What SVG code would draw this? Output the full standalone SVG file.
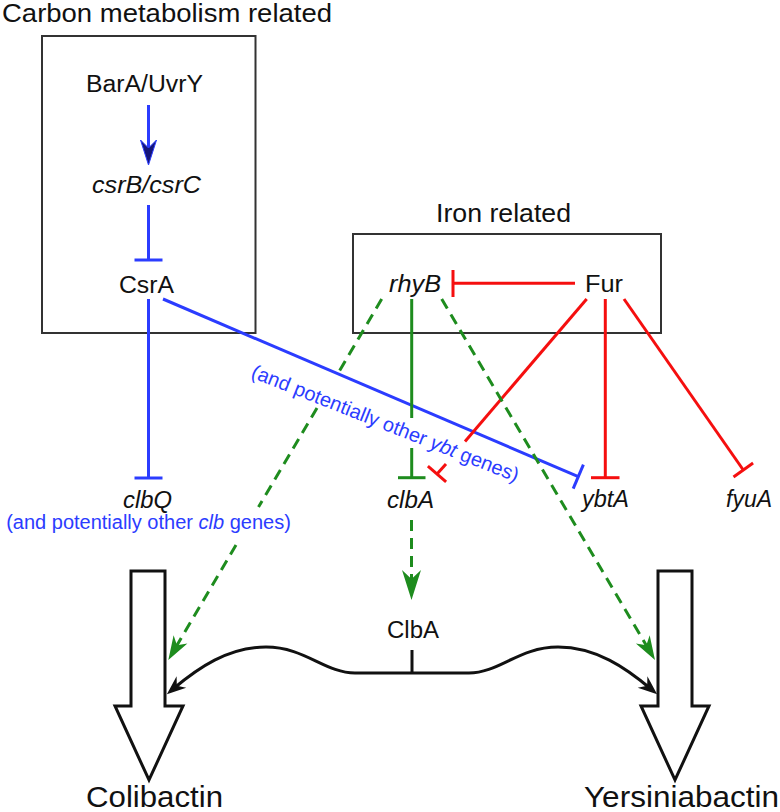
<svg xmlns="http://www.w3.org/2000/svg" width="780" height="812" viewBox="0 0 780 812">
<style>
text{font-family:"Liberation Sans",Arial,sans-serif;fill:#111}
.lbl{font-size:23px}
.it{font-style:italic}
.big{font-size:25px}
.prod{font-size:30px}
.box{fill:none;stroke:#333;stroke-width:2}
.blue{stroke:#2b3cff;stroke-width:3;fill:none}
.red{stroke:#f50f0f;stroke-width:3;fill:none}
.green{stroke:#1e8c1e;stroke-width:3;fill:none}
.dash{stroke-dasharray:11 7}
.blk{stroke:#111;stroke-width:3;fill:none}
.btxt{fill:#2b3cff;font-size:20px}
.fat{fill:#fff;stroke:#111;stroke-width:3;stroke-linejoin:miter}
</style>
<defs>
<marker id="arrBlue" markerUnits="userSpaceOnUse" viewBox="-26 -10 28 20" markerWidth="28" markerHeight="20" refX="-10" refY="0" orient="auto">
<path d="M0,0 L-25,-8 L-17,0 L-25,8 Z" fill="#15157a" stroke="#2b3cff" stroke-width="1"/>
</marker>
<marker id="arrGreen" markerUnits="userSpaceOnUse" viewBox="-26 -10 28 20" markerWidth="28" markerHeight="20" refX="-10" refY="0" orient="auto">
<path d="M0,0 L-24,-8 L-17,0 L-24,8 Z" fill="#1e8c1e"/>
</marker>
<marker id="arrGreenBig" markerUnits="userSpaceOnUse" viewBox="-32 -11 34 22" markerWidth="34" markerHeight="22" refX="-12" refY="0" orient="auto">
<path d="M0,0 L-30,-9.5 L-21,0 L-30,9.5 Z" fill="#1e8c1e"/>
</marker>
<marker id="arrBlack" markerUnits="userSpaceOnUse" viewBox="-22 -9 24 18" markerWidth="24" markerHeight="18" refX="-8" refY="0" orient="auto">
<path d="M0,0 L-19,-7.5 L-13,0 L-19,7.5 Z" fill="#111"/>
</marker>
</defs>

<g id="group-carbon">
<text class="big" x="2" y="22" textLength="330" lengthAdjust="spacingAndGlyphs">Carbon metabolism related</text>
<rect class="box" x="42" y="36" width="213.5" height="297"/>
</g>
<g id="group-iron">
<text class="big" x="436" y="222" textLength="135" lengthAdjust="spacingAndGlyphs">Iron related</text>
<rect class="box" x="353" y="234" width="308" height="99"/>
</g>

<g id="node-BarA"><text class="lbl" x="86" y="92" textLength="117" lengthAdjust="spacingAndGlyphs">BarA/UvrY</text></g>
<g id="node-csrB"><text class="lbl it" x="92" y="193" textLength="109" lengthAdjust="spacingAndGlyphs">csrB/csrC</text></g>
<g id="node-CsrA"><text class="lbl" x="119" y="293" textLength="55" lengthAdjust="spacingAndGlyphs">CsrA</text></g>
<g id="node-rhyB"><text class="lbl it" x="389" y="292" textLength="52" lengthAdjust="spacingAndGlyphs">rhyB</text></g>
<g id="node-Fur"><text class="lbl" x="585" y="292" textLength="38" lengthAdjust="spacingAndGlyphs">Fur</text></g>
<g id="node-clbQ">
<text class="lbl it" x="123" y="508" textLength="49" lengthAdjust="spacingAndGlyphs">clbQ</text>
<text class="btxt" x="148.5" y="529" text-anchor="middle">(and potentially other <tspan font-style="italic">clb</tspan> genes)</text>
</g>
<g id="node-clbA"><text class="lbl it" x="387" y="508" textLength="47" lengthAdjust="spacingAndGlyphs">clbA</text></g>
<g id="node-ybtA"><text class="lbl it" x="582" y="507" textLength="47" lengthAdjust="spacingAndGlyphs">ybtA</text></g>
<g id="node-fyuA"><text class="lbl it" x="726" y="507" textLength="46" lengthAdjust="spacingAndGlyphs">fyuA</text></g>
<g id="node-ClbA"><text class="lbl" x="387" y="638" textLength="52" lengthAdjust="spacingAndGlyphs">ClbA</text></g>
<g id="node-Colibactin">
<polygon class="fat" points="131,571 165,571 165,706 183,706 149,780 115,706 131,706"/>
<text class="prod" x="86" y="807" textLength="137" lengthAdjust="spacingAndGlyphs">Colibactin</text>
</g>
<g id="node-Yersiniabactin">
<polygon class="fat" points="658,571 692,571 692,706 709,706 675,780 641,706 658,706"/>
<text class="prod" x="584" y="807" textLength="195" lengthAdjust="spacingAndGlyphs">Yersiniabactin</text>
</g>

<g id="connectors">
<line class="blue" x1="148.5" y1="105" x2="148.5" y2="155" marker-end="url(#arrBlue)"/>
<line class="blue" x1="148.5" y1="205" x2="148.5" y2="260"/>
<line class="blue" x1="134.5" y1="260" x2="162.5" y2="260"/>
<line class="blue" x1="148.5" y1="299" x2="148.5" y2="478"/>
<line class="blue" x1="134.5" y1="478" x2="162.5" y2="478"/>
<line class="blue" x1="163" y1="299" x2="578.3" y2="476.7"/>
<line class="blue" x1="583.4" y1="464.7" x2="573.2" y2="488.7"/>
<text class="btxt" font-size="20.6" transform="translate(250,377) rotate(21.6)">(and potentially other <tspan font-style="italic">ybt</tspan> genes)</text>
<line class="red" x1="575" y1="283.3" x2="453" y2="283.3"/>
<line class="red" x1="453" y1="270" x2="453" y2="297"/>
<line class="red" x1="586.7" y1="299" x2="465" y2="441.5"/>
<line class="red" x1="446" y1="464" x2="437" y2="474"/>
<line class="red" x1="446.1" y1="481.8" x2="427.9" y2="466.2"/>
<line class="red" x1="605.3" y1="299" x2="605.3" y2="477.7"/>
<line class="red" x1="591" y1="477.7" x2="619.5" y2="477.7"/>
<line class="red" x1="624" y1="299" x2="743.3" y2="470"/>
<line class="red" x1="753.1" y1="463.1" x2="733.5" y2="476.9"/>
<line class="green" x1="411.7" y1="299" x2="411.7" y2="418"/>
<line class="green" x1="411.7" y1="448" x2="411.7" y2="477.7"/>
<line class="green" x1="398" y1="477.7" x2="425.5" y2="477.7"/>
<line class="green dash" x1="381.7" y1="299" x2="338" y2="373.5"/>
<line class="green dash" x1="317" y1="408" x2="258.5" y2="507"/>
<line class="green dash" x1="236" y1="545" x2="173.4" y2="651.4" marker-end="url(#arrGreen)"/>
<line class="green dash" x1="441.7" y1="299" x2="649.9" y2="651.4" marker-end="url(#arrGreen)"/>
<line class="green dash" x1="411.5" y1="520" x2="411.5" y2="588" marker-end="url(#arrGreenBig)"/>
<line class="blk" x1="412" y1="650" x2="412" y2="673"/>
<path class="blk" d="M412,673 L355,673 C325,673 305,647 266,647 C228,647 198,668 173,689" marker-end="url(#arrBlack)"/>
<path class="blk" d="M412,673 L469,673 C499,673 519,647 558,647 C596,647 626,668 651,689" marker-end="url(#arrBlack)"/>
</g>
</svg>
